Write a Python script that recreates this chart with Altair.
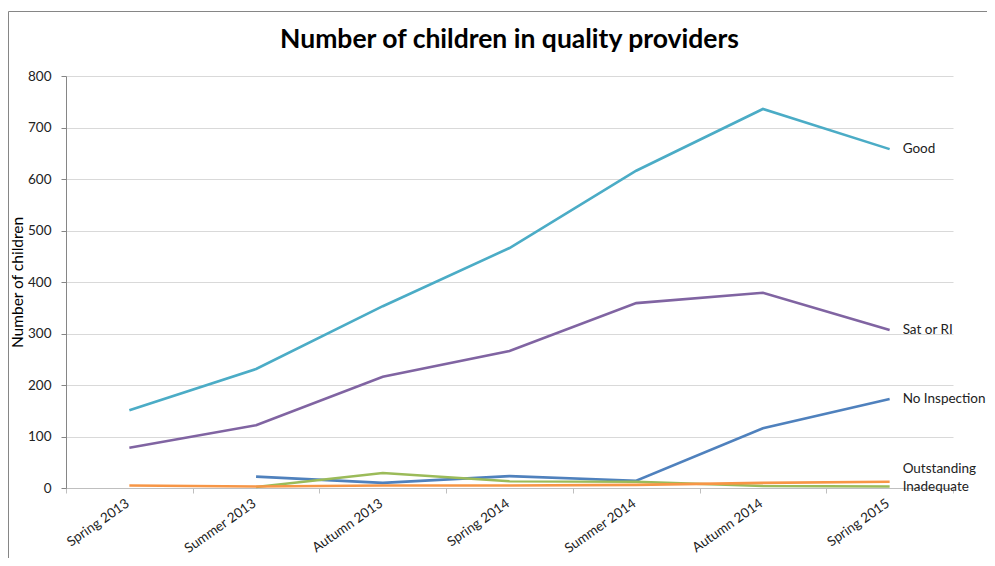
import altair as alt
import pandas as pd

terms = ["Spring 2013", "Summer 2013", "Autumn 2013", "Spring 2014",
         "Summer 2014", "Autumn 2014", "Spring 2015"]

no_inspection = [None, 22, 10, 23, 14, 116, 173]
inadequate = [None, 2, 29, 13, 12, 4, 3]
outstanding = [5, 3, 5, 5, 6, 10, 12]
sat_or_ri = [78, 122, 216, 266, 359, 379, 307]
good = [151, 231, 353, 466, 616, 736, 658]

series_names = ["No Inspection", "Inadequate", "Outstanding", "Sat or RI", "Good"]
series_colors = ["#4F81BD", "#9BBB59", "#F79646", "#8064A2", "#4BACC6"]
label_values = [173, 2, 37, 307, 658]

title_text = "Number of children in quality providers"

FONT = "Lato"
W, H = 887, 412

rows = []
for name, vals in zip(series_names, [no_inspection, inadequate, outstanding, sat_or_ri, good]):
    for i, (t, v) in enumerate(zip(terms, vals)):
        if v is not None:
            rows.append({"term": t, "series": name, "value": v, "order": i})
df = pd.DataFrame(rows)

labels_df = pd.DataFrame({"term": [terms[-1]] * len(series_names),
                          "series": series_names, "value": label_values})

x_axis = alt.Axis(title=None, labelAngle=-35, tickBand="extent", labelFontSize=13.5,
                  labelFont=FONT, labelColor="#222", tickSize=5, tickColor="#BFBFBF",
                  domainColor="#BFBFBF", labelPadding=3, labelOffset=-6, grid=False)
x_scale = alt.Scale(type="band", domain=terms, paddingInner=0, paddingOuter=0)
y_scale = alt.Scale(domain=[0, 800])
y_axis = alt.Axis(title="Number of children", values=list(range(0, 801, 100)),
                  titleFont=FONT, titleFontSize=15.5, titleFontWeight="normal",
                  titleColor="#000", labelFont=FONT, labelFontSize=13.5,
                  labelColor="#222", tickSize=5, tickColor="#868686",
                  domainColor="#868686", gridColor="#D9D9D9", labelPadding=10,
                  titlePadding=2)

x_enc = alt.X("term:N", sort=terms, bandPosition=0.5, scale=x_scale, axis=x_axis)
y_enc = alt.Y("value:Q", scale=y_scale, axis=y_axis)

color_enc = alt.Color("series:N", scale=alt.Scale(domain=series_names, range=series_colors),
                      legend=None)

lines = alt.Chart(df).mark_line(strokeWidth=2.6).encode(
    x=x_enc, y=y_enc, color=color_enc, order="order:Q", detail="series:N")

texts = alt.Chart(labels_df).mark_text(align="left", baseline="middle", dx=13,
                                       font=FONT, fontSize=13.5, color="#222").encode(
    x=x_enc, y=y_enc, text="series:N")

one = alt.Data(values=[{"t": title_text}])

title_mark = alt.Chart(one).mark_text(
    align="center", baseline="alphabetic", font=FONT, fontSize=26.5, fontWeight="bold",
    color="#000").encode(x=alt.value(W / 2), y=alt.value(-28), text="t:N")

frame_left = alt.Chart(one).mark_rule(color="#868686", strokeWidth=1).encode(
    x=alt.value(-57.5), y=alt.value(-64.5), y2=alt.value(H + 80))
frame_top = alt.Chart(one).mark_rule(color="#868686", strokeWidth=1).encode(
    x=alt.value(-57.5), x2=alt.value(W + 60), y=alt.value(-64.5))

chart = alt.layer(lines, texts, title_mark, frame_left, frame_top).properties(
    width=W, height=H,
    autosize=alt.AutoSizeParams(type="none"),
    padding={"left": 58, "top": 68, "right": 34, "bottom": 70},
).configure(background="white").configure_view(strokeWidth=0, stroke="transparent")

chart.save("out.html", embed_options={"renderer": "svg", "actions": False})
